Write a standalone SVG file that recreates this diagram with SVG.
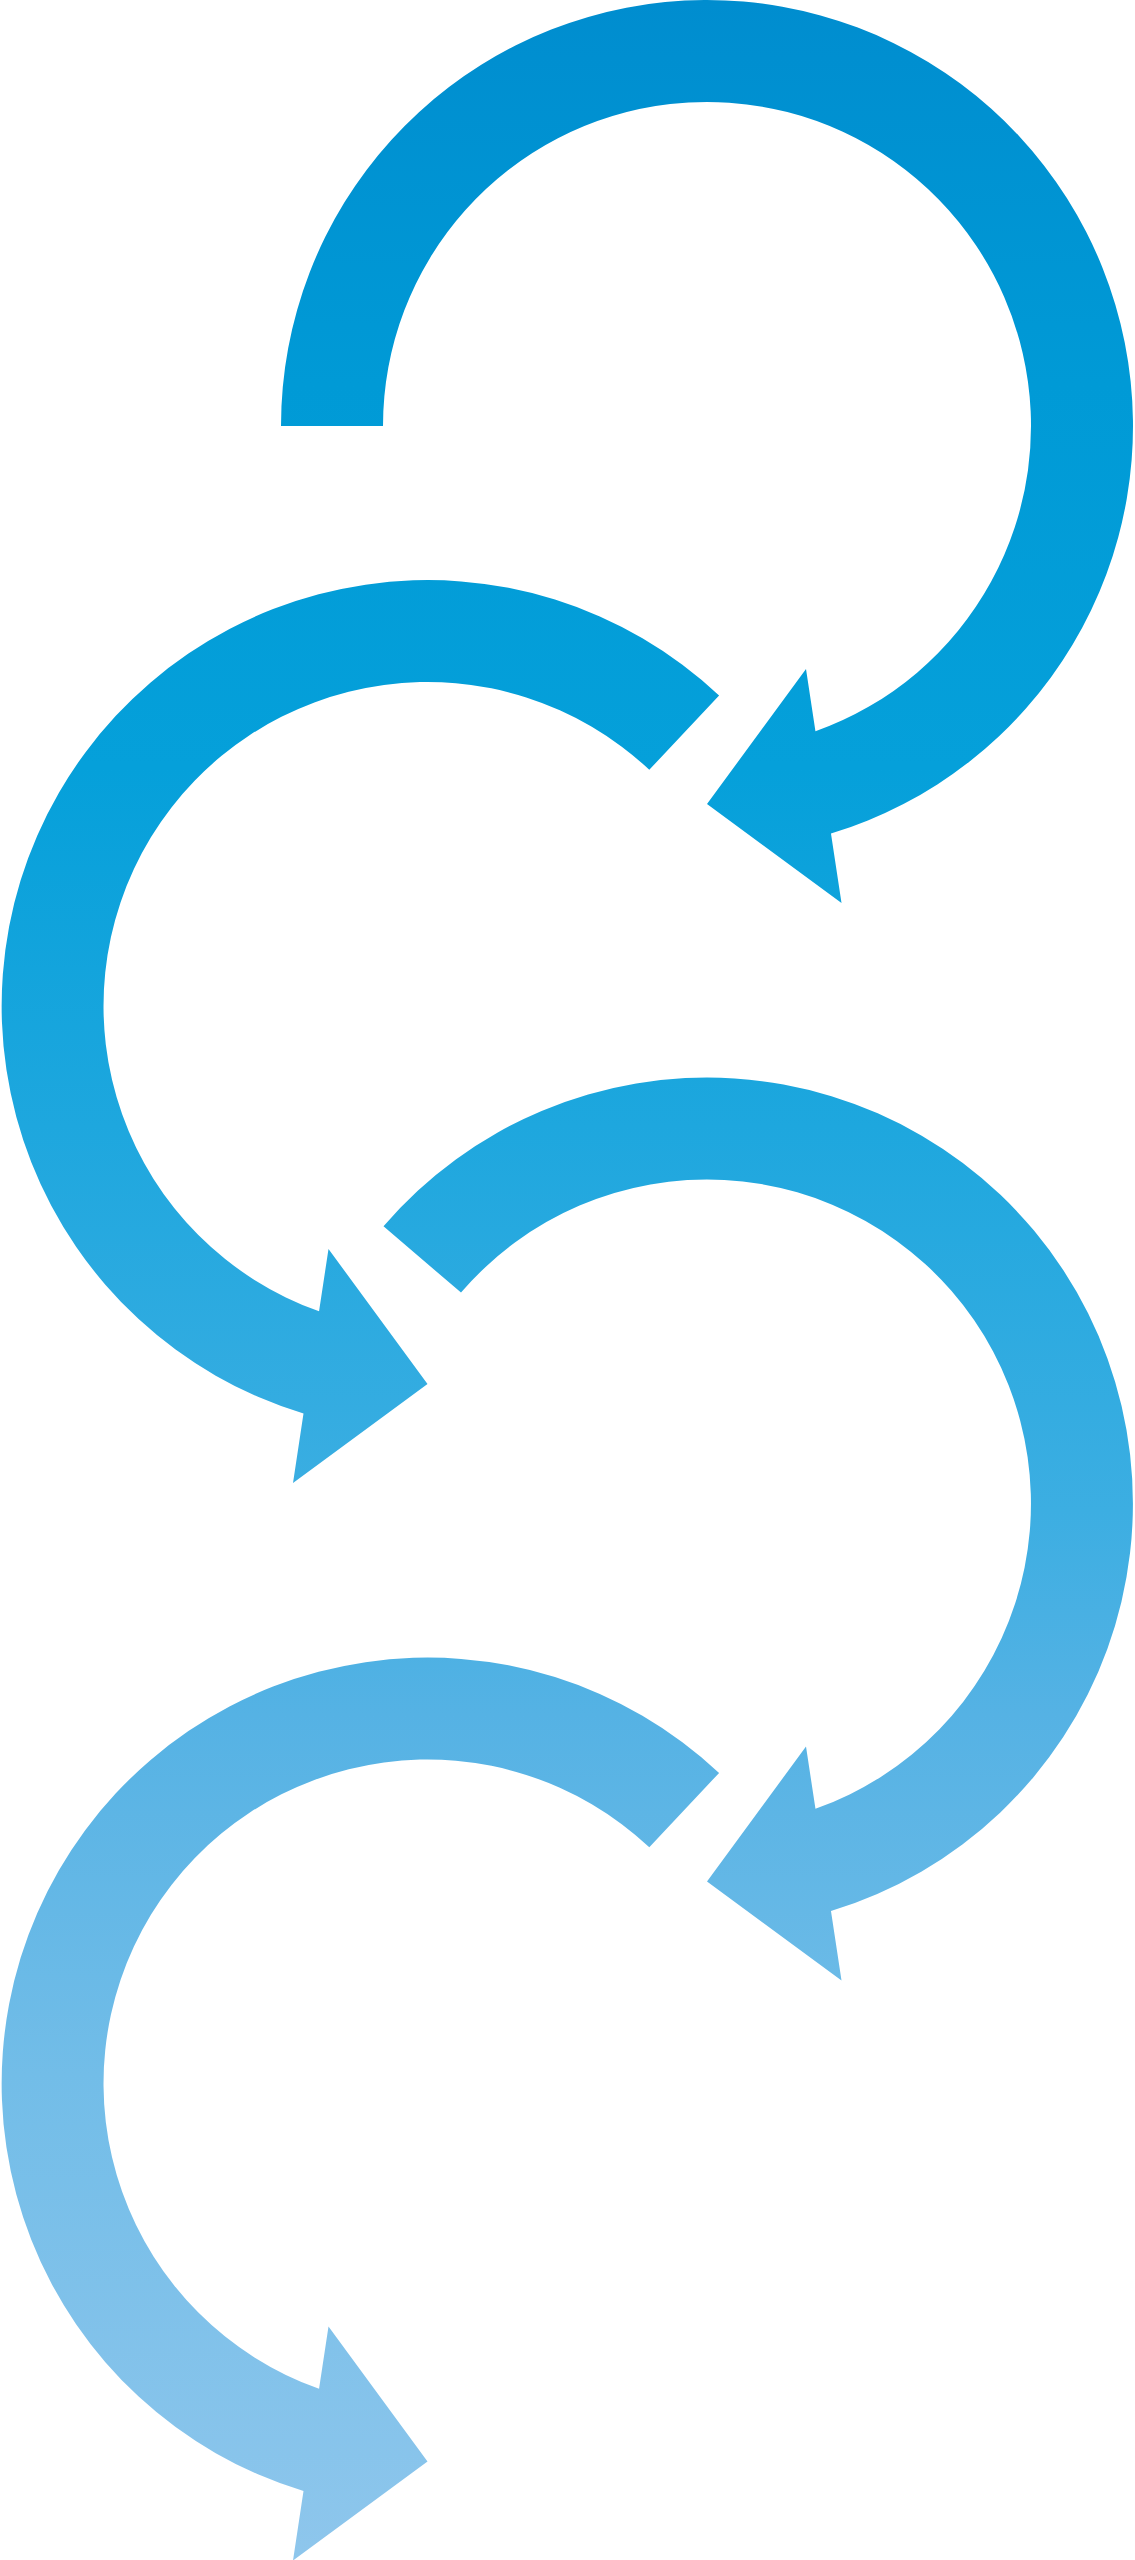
<svg xmlns="http://www.w3.org/2000/svg" width="1135" height="2560" viewBox="0 0 1135 2560">
<defs>
<linearGradient id="g" gradientUnits="userSpaceOnUse" x1="0" y1="0" x2="0" y2="2560">
<stop offset="0" stop-color="#008dcf"/>
<stop offset="0.15" stop-color="#009ad6"/>
<stop offset="0.3" stop-color="#05a0da"/>
<stop offset="0.44" stop-color="#1ea7de"/>
<stop offset="0.59" stop-color="#3caee2"/>
<stop offset="0.67" stop-color="#55b2e4"/>
<stop offset="0.81" stop-color="#72bde8"/>
<stop offset="1" stop-color="#8ec6ec"/>
</linearGradient>
<style>.a{fill:url(#g);stroke:none}</style>
</defs>
<rect width="1135" height="2560" fill="#ffffff"/>
<g id="arrow1"><path class="a" d="M 281 426 A 426 426 0 1 1 830.97 833.6 L 841.5 903 L 707 804 L 806 669 L 815.45 731.3 A 324 324 0 1 0 383 426 Z"/></g>
<g id="arrow2"><path class="a" d="M 719.1 695.4 A 426 426 0 1 0 303.5 1413.6 L 293 1483 L 427.5 1384 L 328.5 1249 L 319.05 1311.3 A 324 324 0 1 1 649.3 769.8 Z"/></g>
<g id="arrow3"><path class="a" d="M 383.5 1226.3 A 426 426 0 1 1 830.97 1911.1 L 841.5 1980.5 L 707 1881.5 L 806 1746.5 L 815.45 1808.8 A 324 324 0 1 0 461 1292.6 Z"/></g>
<g id="arrow4"><path class="a" d="M 719.1 1772.9 A 426 426 0 1 0 303.5 2491.1 L 293 2560.5 L 427.5 2461.5 L 328.5 2326.5 L 319.05 2388.8 A 324 324 0 1 1 649.3 1847.3 Z"/></g>
</svg>
